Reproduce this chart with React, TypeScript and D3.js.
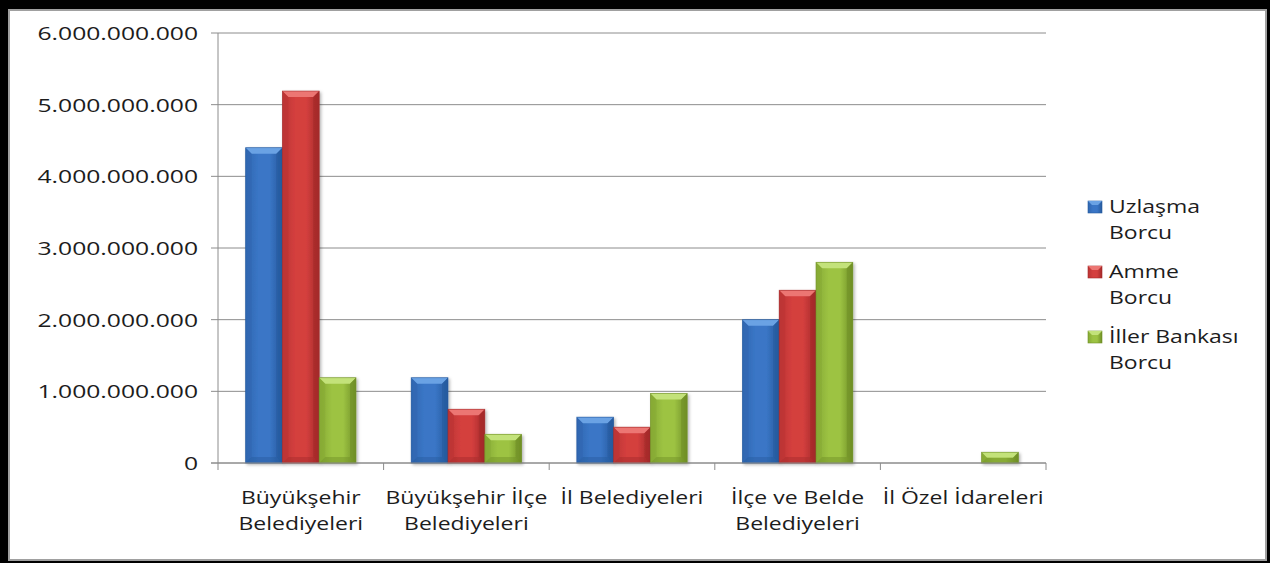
import React from 'react';
import * as d3 from 'd3';

const categories: string[][] = [
  ['Büyükşehir', 'Belediyeleri'],
  ['Büyükşehir İlçe', 'Belediyeleri'],
  ['İl Belediyeleri'],
  ['İlçe ve Belde', 'Belediyeleri'],
  ['İl Özel İdareleri'],
];
const seriesLabels: string[][] = [
  ['Uzlaşma', 'Borcu'],
  ['Amme', 'Borcu'],
  ['İller Bankası', 'Borcu'],
];
const uzlasmaBorcu = [4.4e9, 1.19e9, 0.64e9, 2.0e9, 0];
const ammeBorcu = [5.19e9, 0.75e9, 0.5e9, 2.41e9, 0];
const illerBankasiBorcu = [1.19e9, 0.4e9, 0.97e9, 2.8e9, 0.15e9];
const yTickValues = [0, 1e9, 2e9, 3e9, 4e9, 5e9, 6e9];

const seriesValues = [uzlasmaBorcu, ammeBorcu, illerBankasiBorcu];
const palette = [
  { base: '#3a76c6', light: '#6aa2e4', dark: '#265a9e', edge: '#2f66b0' },
  { base: '#d43f3e', light: '#ec7673', dark: '#a32a2a', edge: '#bb3434' },
  { base: '#9dc343', light: '#c3e27a', dark: '#6f8f26', edge: '#86aa34' },
];

const W = 1270;
const H = 563;
const SX_NUM = 1.3;
const SX_TXT = 1.21;
const FONT = 'Open Sans';
const TXT = '#1c1c1c';

const fmt = d3.formatLocale({ decimal: ',', thousands: '.', grouping: [3], currency: ['', ''] }).format(',');

const x0 = d3.scaleBand<number>().domain(categories.map((_, i) => i)).range([218, 1046]).paddingInner(0).paddingOuter(0);
const x1 = d3.scaleBand<number>().domain([0, 1, 2]).range([0, x0.bandwidth()]).paddingInner(0).paddingOuter(0.75);
const y = d3.scaleLinear().domain([0, 6e9]).range([463, 33]);

const T = ({ x, y: yy, anchor = 'start', size = 19, sx = SX_TXT, children }: any) => (
  <text
    transform={`translate(${x},${yy}) scale(${sx},1)`}
    textAnchor={anchor}
    fontSize={size}
    fontFamily={FONT}
    fill={TXT}
  >
    {children}
  </text>
);

const Bar = ({ x, yTop, w, h, s }: any) => {
  if (h <= 0.5) return null;
  const c = palette[s];
  const b = Math.min(6, h / 2);
  return (
    <g filter="url(#shadow)">
      <rect x={x} y={yTop} width={w} height={h} fill={`url(#grad${s})`} />
      <polygon points={`${x},${yTop} ${x + w},${yTop} ${x + w - b},${yTop + b} ${x + b},${yTop + b}`} fill={c.light} />
      <polygon points={`${x},${yTop} ${x + b},${yTop + b} ${x + b},${yTop + h - b} ${x},${yTop + h}`} fill={c.edge} opacity={0.55} />
      <polygon points={`${x + w},${yTop} ${x + w - b},${yTop + b} ${x + w - b},${yTop + h - b} ${x + w},${yTop + h}`} fill={c.dark} opacity={0.6} />
      <polygon points={`${x},${yTop + h} ${x + b},${yTop + h - b} ${x + w - b},${yTop + h - b} ${x + w},${yTop + h}`} fill={c.dark} opacity={0.45} />
      <rect x={x} y={yTop} width={w} height={h} fill="none" stroke={c.dark} strokeWidth={0.8} opacity={0.7} />
    </g>
  );
};

export default function App() {
  const plotLeft = 218;
  const plotRight = 1046;
  const y0 = y(0);
  return (
    <svg width={W} height={H} style={{ position: 'absolute', left: 0, top: 0 }}>
      <defs>
        {palette.map((c, i) => (
          <linearGradient key={i} id={`grad${i}`} x1="0" x2="1" y1="0" y2="0">
            <stop offset="0" stopColor={c.edge} />
            <stop offset="0.35" stopColor={c.base} />
            <stop offset="0.65" stopColor={c.base} />
            <stop offset="1" stopColor={c.dark} />
          </linearGradient>
        ))}
        <filter id="shadow" x="-20%" y="-20%" width="150%" height="150%">
          <feDropShadow dx="1.5" dy="1.5" stdDeviation="1.5" floodColor="#000" floodOpacity="0.3" />
        </filter>
      </defs>
      <rect x={0} y={0} width={W} height={H} fill="#000" />
      <rect x={9} y={10} width={1257} height={550} fill="#fff" stroke="#a0a0a0" strokeWidth={2} />

      {yTickValues.map((v) => (
        <line key={v} x1={211} x2={plotRight} y1={y(v)} y2={y(v)} stroke="#8c8c8c" strokeWidth={1} />
      ))}
      <line x1={plotLeft} x2={plotLeft} y1={y(6e9)} y2={y0} stroke="#8c8c8c" strokeWidth={1} />
      {d3.range(categories.length + 1).map((i) => {
        const xx = i < categories.length ? x0(i)! : x0.range()[1];
        return <line key={i} x1={xx} x2={xx} y1={y0} y2={y0 + 7} stroke="#8c8c8c" strokeWidth={1} />;
      })}

      {yTickValues.map((v) => (
        <T key={v} x={198} y={y(v) + 7} anchor="end" sx={SX_NUM}>
          {fmt(v)}
        </T>
      ))}

      {seriesValues.map((vals, s) =>
        vals.map((v, i) => (
          <Bar key={`${s}-${i}`} x={x0(i)! + x1(s)!} yTop={y(v)} w={x1.bandwidth()} h={y0 - y(v)} s={s} />
        ))
      )}
      <line x1={211} x2={plotRight} y1={y0} y2={y0} stroke="#8c8c8c" strokeWidth={1} />

      {categories.map((lines, i) =>
        lines.map((t, j) => (
          <T key={`${i}-${j}`} x={x0(i)! + x0.bandwidth() / 2} y={504 + j * 26} anchor="middle">
            {t}
          </T>
        ))
      )}

      {seriesLabels.map((lines, s) => {
        const top = 213 + s * 65;
        const c = palette[s];
        return (
          <g key={s}>
            <rect x={1088} y={top - 12} width={14} height={12} fill={`url(#grad${s})`} stroke={c.dark} strokeWidth={0.6} />
            <polygon points={`${1088},${top - 12} ${1102},${top - 12} ${1098},${top - 8} ${1092},${top - 8}`} fill={c.light} />
            {lines.map((t, j) => (
              <T key={j} x={1109} y={top + j * 26}>
                {t}
              </T>
            ))}
          </g>
        );
      })}
    </svg>
  );
}
